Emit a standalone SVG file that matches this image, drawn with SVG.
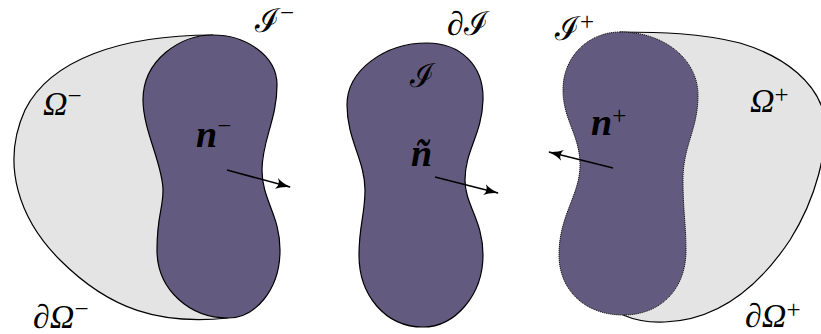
<svg xmlns="http://www.w3.org/2000/svg" width="821" height="334" viewBox="0 0 821 334">
<style>
.grey{fill:#e4e4e4;stroke:none}
.outer{fill:none;stroke:#000;stroke-width:1.2}
.purple{fill:#635b7f;stroke:#000;stroke-width:1.2}
.dotted{fill:#635b7f;stroke:#111;stroke-width:1;stroke-dasharray:1.2 0.8}
.arr{fill:none;stroke:#000;stroke-width:1.6;marker-end:url(#ah)}
text{font-family:"Liberation Serif","DejaVu Serif",serif;font-style:italic;font-size:34px;fill:#000}
.cal{font-family:"DejaVu Serif",serif;font-style:normal;font-size:33px}
.b{font-weight:bold;font-size:38px}
.sup{font-style:normal;font-weight:normal;font-size:25px;font-family:"Liberation Serif",serif}
</style>
<defs>
<marker id="ah" markerWidth="16" markerHeight="12" refX="14" refY="6" orient="auto" markerUnits="userSpaceOnUse">
<path d="M0,0.5 Q6,4.5 15,6 Q6,7.5 0,11.5 Q4.5,6 0,0.5 Z" fill="#000"/>
</marker>
</defs>
<g id="omega-minus">
<path class="grey" d="M213,35 C120,35 50,60 25,110 C0,165 20,220 60,260 C110,310 160,325 228,318 L230,250 L230,100 Z"/>
<path class="outer" d="M213,35 C120,35 50,60 25,110 C0,165 20,220 60,260 C110,310 160,325 228,318"/>
</g>
<g id="omega-plus">
<path class="grey" d="M620,32 C660,32 700,33 740,43 C790,58 815,85 823,110 C830,150 815,200 790,240 C760,285 720,320 665,322 C645,323 630,318 623,315 L650,250 L650,100 Z"/>
<path class="outer" d="M620,32 C660,32 700,33 740,43 C790,58 815,85 823,110 C830,150 815,200 790,240 C760,285 720,320 665,322 C645,323 630,318 623,315"/>
</g>
<g id="I-minus">
<path class="purple" d="M213,35 C245,35 277,55 277,85 C277,120 262,140 262,170 C262,200 280,215 280,250 C280,290 255,318 228,318 C190,318 157,290 157,250 C157,215 163,210 163,190 C163,165 143,130 143,100 C143,60 180,35 213,35 Z"/>
</g>
<g id="I-mid">
<path class="purple" d="M427,43 C460,43 484,65 483,100 C482,135 465,150 465,180 C465,205 483,220 483,255 C483,295 455,327 423,327 C385,327 359,295 359,255 C359,225 365,215 365,190 C365,160 347,140 347,105 C347,70 385,43 427,43 Z"/>
</g>
<g id="I-plus">
<path class="dotted" d="M620,32 C665,32 698,60 698,95 C698,130 683,145 683,180 C683,210 686,225 686,250 C686,290 660,315 623,315 C585,315 559,290 559,255 C559,215 580,195 580,165 C580,135 563,120 563,90 C563,55 590,32 620,32 Z"/>
</g>
<g id="connectors">
<line class="arr" x1="227" y1="170" x2="290" y2="187"/>
<line class="arr" x1="435" y1="177" x2="498" y2="193"/>
<line class="arr" x1="613" y1="168" x2="549" y2="152"/>
</g>
<g id="labels">
<text class="cal" x="255" y="32">ℐ<tspan class="sup" dy="-11">−</tspan></text>
<text x="447" y="35">∂<tspan class="cal">ℐ</tspan></text>
<text class="cal" x="555" y="40">ℐ<tspan class="sup" dy="-10">+</tspan></text>
<text class="cal" x="410" y="87">ℐ</text>
<text x="43" y="115">Ω<tspan class="sup" dy="-11">−</tspan></text>
<text x="750" y="112">Ω<tspan class="sup" dy="-9">+</tspan></text>
<text x="33" y="328">∂Ω<tspan class="sup" dy="-11">−</tspan></text>
<text x="745" y="327">∂Ω<tspan class="sup" dy="-9">+</tspan></text>
<text class="b" x="196" y="147">n<tspan class="sup" dy="-13">−</tspan></text>
<text class="b" x="411" y="166">ñ</text>
<text class="b" x="591" y="135">n<tspan class="sup" dy="-11">+</tspan></text>
</g>
</svg>
